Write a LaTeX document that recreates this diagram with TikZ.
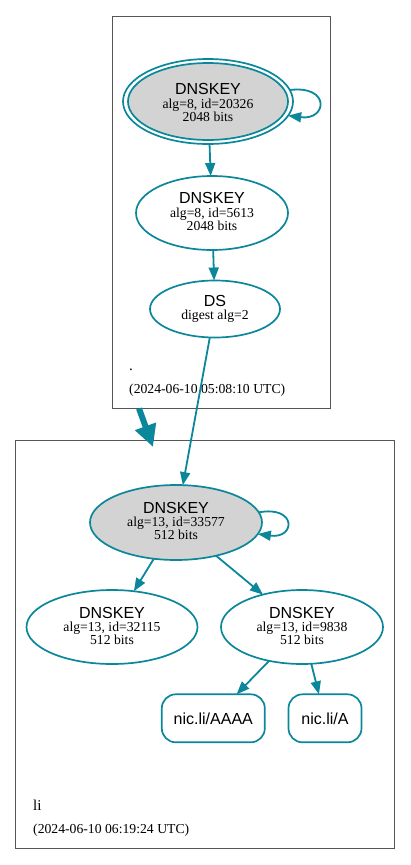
\documentclass[tikz,border=0pt]{standalone}
\usepackage{fontspec}
\setmainfont{Liberation Serif}
\setsansfont{Liberation Sans}
\usetikzlibrary{arrows.meta,shapes.geometric}
\definecolor{teal0}{RGB}{10,135,154}
\definecolor{clus}{RGB}{85,85,85}
\definecolor{keyfill}{RGB}{211,211,211}
\tikzset{
  key/.style={ellipse, draw=teal0, line width=1.7pt, inner sep=0pt, outer sep=0pt},
  ksk/.style={key, fill=keyfill},
  rr/.style={rectangle, rounded corners=14pt, draw=teal0, line width=1.7pt, minimum height=48pt, inner sep=0pt, outer sep=0pt, font=\fontsize{16}{18}\sffamily},
  edge/.style={draw=teal0, line width=1.8pt, -{Triangle[length=13pt,width=10pt]}},
  zoneedge/.style={draw=teal0, line width=6pt, -{Triangle[length=22pt,width=21pt]}},
  cluster/.style={draw=clus, line width=1pt},
  ttl/.style={font=\fontsize{16}{18}\sffamily, anchor=base, inner sep=0pt},
  dtl/.style={font=\fontsize{13.7}{15}\selectfont, anchor=base, inner sep=0pt},
  stamp/.style={font=\fontsize{13.7}{15}\selectfont, anchor=base west, inner sep=0pt},
  zlabel/.style={font=\fontsize{15}{17}\selectfont, anchor=base west, inner sep=0pt},
}
\begin{document}
\begin{tikzpicture}[x=1pt,y=-1pt]
\useasboundingbox (0,0) rectangle (411,865);
% clusters
\draw[cluster] (112,16) rectangle (330,408.5);
\draw[cluster] (15,440) rectangle (394,848);
% top zone nodes
\node[key, minimum width=170pt, minimum height=85pt] (k1o) at (208,101.5) {};
\node[ksk, minimum width=160pt, minimum height=77pt] (k1) at (208,101.5) {};
\node[ttl] (k1a) at ([yshift=7.5pt]k1.center) {DNSKEY};
\node[dtl] (k1b) at ([yshift=-6.5pt]k1.center) {alg=8, id=20326};
\node[dtl] (k1c) at ([yshift=-19.5pt]k1.center) {2048 bits};

\node[key, minimum width=152pt, minimum height=74pt] (k2) at (212,213) {};
\node[ttl] (k2a) at ([yshift=9.5pt]k2.center) {DNSKEY};
\node[dtl] (k2b) at ([yshift=-4pt]k2.center) {alg=8, id=5613};
\node[dtl] (k2c) at ([yshift=-17pt]k2.center) {2048 bits};

\node[key, minimum width=130pt, minimum height=57pt] (ds) at (215,309) {};
\node[ttl] (dsa) at ([yshift=3pt]ds.center) {DS};
\node[dtl] (dsb) at ([yshift=-10.5pt]ds.center) {digest alg=2};

\node[zlabel] (rootname) at (129,370) {.};
\node[stamp] (rootstamp) at (129,393) {(2024-06-10 05:08:10 UTC)};

% bottom zone nodes
\node[ksk, minimum width=172pt, minimum height=75pt] (k3) at (176,522.5) {};
\node[ttl] (k3a) at ([yshift=9pt]k3.center) {DNSKEY};
\node[dtl] (k3b) at ([yshift=-4pt]k3.center) {alg=13, id=33577};
\node[dtl] (k3c) at ([yshift=-17pt]k3.center) {512 bits};

\node[key, minimum width=171pt, minimum height=74pt] (k4) at (112,627) {};
\node[ttl] (k4a) at ([yshift=9pt]k4.center) {DNSKEY};
\node[dtl] (k4b) at ([yshift=-4pt]k4.center) {alg=13, id=32115};
\node[dtl] (k4c) at ([yshift=-17pt]k4.center) {512 bits};

\node[key, minimum width=162pt, minimum height=74pt] (k5) at (302,627) {};
\node[ttl] (k5a) at ([yshift=9pt]k5.center) {DNSKEY};
\node[dtl] (k5b) at ([yshift=-4pt]k5.center) {alg=13, id=9838};
\node[dtl] (k5c) at ([yshift=-17pt]k5.center) {512 bits};

\node[rr, minimum width=103pt] (aaaa) at (213.3,718.3) {nic.li/AAAA};
\node[rr, minimum width=73pt] (arec) at (325,718.3) {nic.li/A};

\node[zlabel] (liname) at (33,810) {li};
\node[stamp] (listamp) at (33,833) {(2024-06-10 06:19:24 UTC)};

% edges
\draw[edge] (k1o.8) .. controls +(41,-5) and +(39,5) .. (k1o.-10);
\draw[edge] (k1o) -- (k2);
\draw[edge] (k2) -- (ds);
\draw[edge] (ds) -- (k3);
\draw[edge] (k3.7) .. controls +(38,-7) and +(38,5) .. (k3.-8.5);
\draw[edge] (k3) -- (k4);
\draw[edge] (k3) -- (k5);
\draw[edge] (k5) -- (aaaa);
\draw[edge] (k5) -- (arec);
\coordinate (ztail) at (139,408.5);
\coordinate (zhead) at (153,447);
\draw[zoneedge] (ztail) -- (zhead);
\end{tikzpicture}
\end{document}
